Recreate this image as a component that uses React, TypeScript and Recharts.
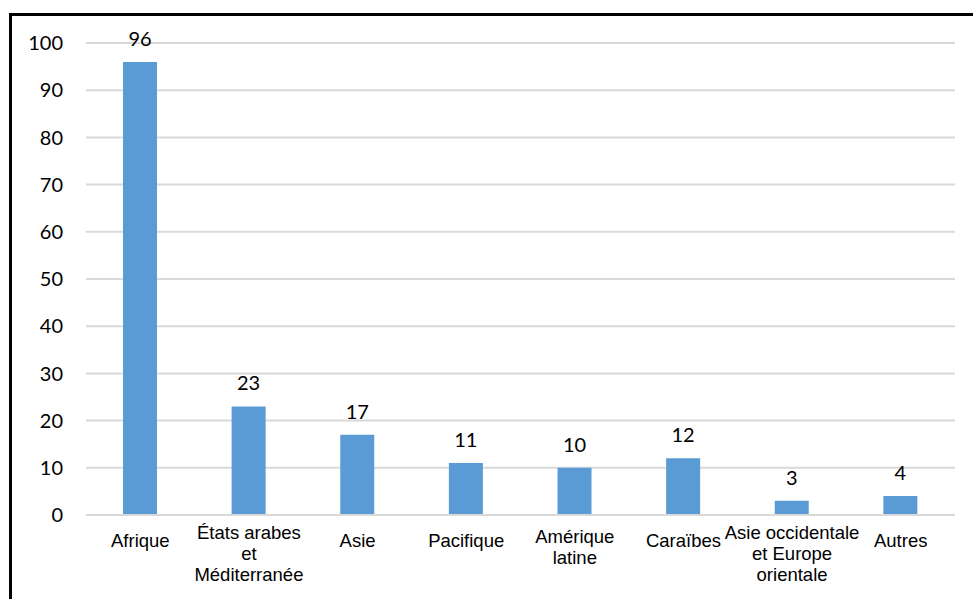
import { BarChart, Bar, XAxis, YAxis, CartesianGrid, LabelList } from "recharts";

const regions = [
  "Afrique",
  "États arabes\net\nMéditerranée",
  "Asie",
  "Pacifique",
  "Amérique\nlatine",
  "Caraïbes",
  "Asie occidentale\net Europe\norientale",
  "Autres",
];
const counts = [96, 23, 17, 11, 10, 12, 3, 4];
const yTicks = [0, 10, 20, 30, 40, 50, 60, 70, 80, 90, 100];

const data = regions.map((region, i) => ({ region, count: counts[i] }));

const RegionTick = (props: any) => {
  const { x, y, payload } = props;
  const lines: string[] = String(payload.value).split("\n");
  const first = 24 - (lines.length - 1) * 4;
  return (
    <text
      x={x}
      y={y}
      textAnchor="middle"
      fill="#000"
      style={{ fontFamily: "'Liberation Sans', Arial, sans-serif", fontSize: 18.5 }}
    >
      {lines.map((line, i) => (
        <tspan key={i} x={x} y={y + first + i * 21}>
          {line}
        </tspan>
      ))}
    </text>
  );
};

const App = () => {
  return (
    <div style={{ position: "relative", width: 973, height: 599, background: "#fff", overflow: "hidden" }}>
      <style>{`body { margin: 0; }`}</style>
      <div
        style={{
          position: "absolute",
          left: 9,
          top: 13,
          width: 980,
          height: 600,
          borderTop: "3px solid #000",
          borderLeft: "3px solid #000",
        }}
      />
      <div style={{ position: "absolute", left: 0, top: 0 }}>
        <BarChart width={973} height={599} data={data} margin={{ top: 43, right: 18, left: 0, bottom: 0 }}>
          <CartesianGrid vertical={false} stroke="#d9d9d9" strokeWidth={2} />
          <XAxis
            dataKey="region"
            height={84}
            interval={0}
            axisLine={{ stroke: "#d9d9d9", strokeWidth: 2 }}
            tickLine={false}
            tick={<RegionTick />}
          />
          <YAxis
            width={86}
            domain={[0, 100]}
            ticks={yTicks}
            axisLine={false}
            tickLine={false}
            tickSize={0}
            tickMargin={23}
            tick={{ fill: "#000", fontFamily: "Lato, 'Open Sans', sans-serif", fontSize: 20 }}
          />
          <Bar dataKey="count" fill="#5b9bd5" barSize={34} isAnimationActive={false}>
            <LabelList
              dataKey="count"
              position="top"
              offset={16}
              style={{ fill: "#000", fontFamily: "Lato, 'Open Sans', sans-serif", fontSize: 20 }}
            />
          </Bar>
        </BarChart>
      </div>
    </div>
  );
};

export default App;
